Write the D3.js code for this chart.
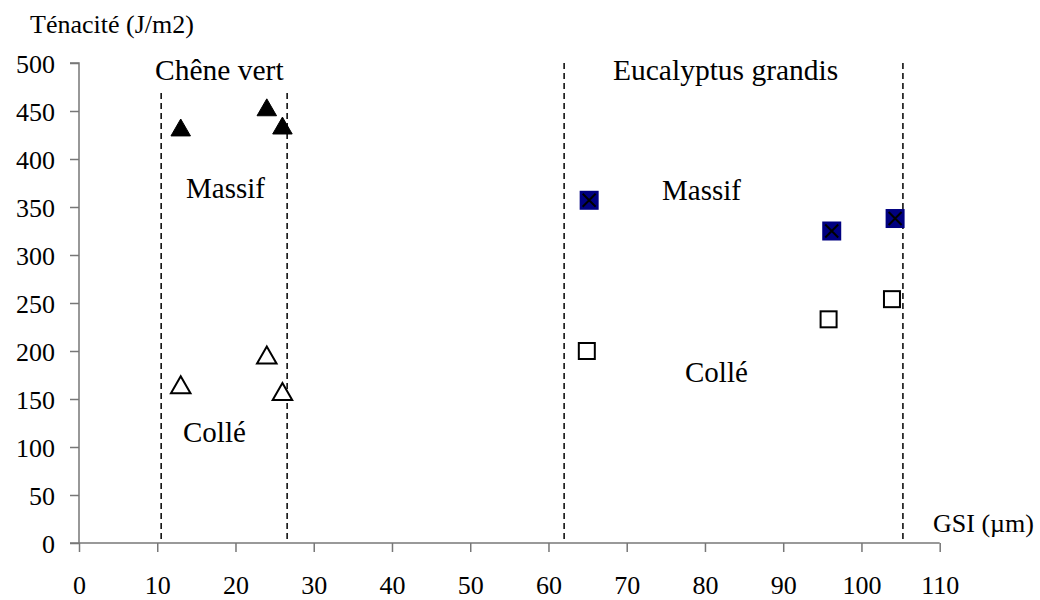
<!DOCTYPE html>
<html>
<head>
<meta charset="utf-8">
<script src="https://cdn.jsdelivr.net/npm/d3@7"></script>
<style>
  html, body { margin: 0; padding: 0; background: #fff; }
  svg { display: block; font-family: "Liberation Serif", "Times New Roman", serif; }
</style>
</head>
<body>
<svg id="chart" width="1040" height="600"></svg>
<script>
// Ténacité vs GSI — chêne vert and Eucalyptus grandis, massif and collé
const xTicks = [0, 10, 20, 30, 40, 50, 60, 70, 80, 90, 100, 110];
const yTicks = [0, 50, 100, 150, 200, 250, 300, 350, 400, 450, 500];

const cheneMassifX = [13, 24, 26];
const cheneMassifY = [432, 453, 434];
const cheneColleX = [13, 24, 26];
const cheneColleY = [164, 195, 157];
const eucaMassifX = [65.2, 96.2, 104.3];
const eucaMassifY = [357, 325, 338];
const eucaColleX = [64.9, 95.8, 103.9];
const eucaColleY = [200, 233, 254];

// boundaries of the two GSI zones
const zoneBounds = [10.5, 26.6, 62, 105.3];

const svg = d3.select("#chart");
const x = d3.scaleLinear().domain([0, 110]).range([79, 939.7]);
const y = d3.scaleLinear().domain([0, 500]).range([543, 63]);

const axisColor = "#777";

// zone boundaries (dashed)
svg.append("g").selectAll("line").data(zoneBounds).join("line")
  .attr("x1", d => x(d)).attr("x2", d => x(d))
  .attr("y1", y(500)).attr("y2", y(0))
  .attr("stroke", "#000").attr("stroke-width", 1.5)
  .attr("stroke-dasharray", "6,4");

// axes
const yAxis = d3.axisLeft(y).tickValues(yTicks).tickSize(9).tickPadding(15);
const xAxis = d3.axisBottom(x).tickValues(xTicks).tickSize(9).tickPadding(24);

const gy = svg.append("g").attr("transform", `translate(${x(0)},0)`).call(yAxis);
const gx = svg.append("g").attr("transform", `translate(0,${y(0)})`).call(xAxis);
[gx, gy].forEach(g => {
  g.select(".domain").attr("stroke", axisColor).attr("stroke-width", 1.5);
  g.selectAll(".tick line").attr("stroke", axisColor).attr("stroke-width", 1.5);
  g.selectAll(".tick text").attr("fill", "#000")
    .style("font-family", "'Liberation Serif', serif").style("font-size", "26px");
});
gx.select(".domain").attr("d", `M${x(0) - 9},0H${x(110)}`);
gy.select(".domain").attr("d", `M0,${y(500)}H-9H0V${y(0)}`);
gy.selectAll(".tick text").attr("dy", "0.36em");

// axis titles
svg.append("text").attr("x", 30).attr("y", 33).attr("font-size", 26)
  .text("Ténacité (J/m2)");
svg.append("text").attr("x", 933).attr("y", 532).attr("font-size", 26)
  .text("GSI (µm)");

// zone titles and annotations
function label(txt, px, py, size, bg) {
  const t = svg.append("text").attr("x", px).attr("y", py)
    .attr("font-size", size).text(txt);
  if (bg) {
    const b = t.node().getBBox();
    svg.insert("rect", () => t.node())
      .attr("x", b.x - 6).attr("y", y(500) - 2)
      .attr("width", b.width + 12).attr("height", b.y + b.height - y(500) + 8)
      .attr("fill", "#fff");
  }
  return t;
}
label("Chêne vert", 155, 80, 29.5, true);
label("Eucalyptus grandis", 613, 80, 29.5, false);
label("Massif", 186, 198, 29, false);
label("Collé", 183, 442, 29, false);
label("Massif", 662, 200, 29, false);
label("Collé", 685, 382, 29, false);

// markers
const tri = d3.symbol().type(d3.symbolTriangle).size(165);
function zip(xs, ys) { return xs.map((v, i) => [v, ys[i]]); }

svg.append("g").selectAll("path").data(zip(cheneMassifX, cheneMassifY)).join("path")
  .attr("d", tri)
  .attr("transform", d => `translate(${x(d[0])},${y(d[1]) + 2})`)
  .attr("fill", "#000").attr("stroke", "#000").attr("stroke-width", 1);

svg.append("g").selectAll("path").data(zip(cheneColleX, cheneColleY)).join("path")
  .attr("d", tri)
  .attr("transform", d => `translate(${x(d[0])},${y(d[1]) + 2})`)
  .attr("fill", "#fff").attr("stroke", "#000").attr("stroke-width", 2);

const sq = 19;
const gm = svg.append("g").selectAll("g").data(zip(eucaMassifX, eucaMassifY)).join("g")
  .attr("transform", d => `translate(${x(d[0])},${y(d[1])})`);
gm.append("rect").attr("x", -sq / 2).attr("y", -sq / 2)
  .attr("width", sq).attr("height", sq).attr("fill", "#000080");
gm.append("path")
  .attr("d", `M${-sq / 2 + 3},${-sq / 2 + 3}L${sq / 2 - 3},${sq / 2 - 3}M${sq / 2 - 3},${-sq / 2 + 3}L${-sq / 2 + 3},${sq / 2 - 3}`)
  .attr("stroke", "#000").attr("stroke-width", 2);

const so = 16;
svg.append("g").selectAll("rect").data(zip(eucaColleX, eucaColleY)).join("rect")
  .attr("x", d => x(d[0]) - so / 2).attr("y", d => y(d[1]) - so / 2)
  .attr("width", so).attr("height", so)
  .attr("fill", "#fff").attr("stroke", "#000").attr("stroke-width", 2);
</script>
</body>
</html>
